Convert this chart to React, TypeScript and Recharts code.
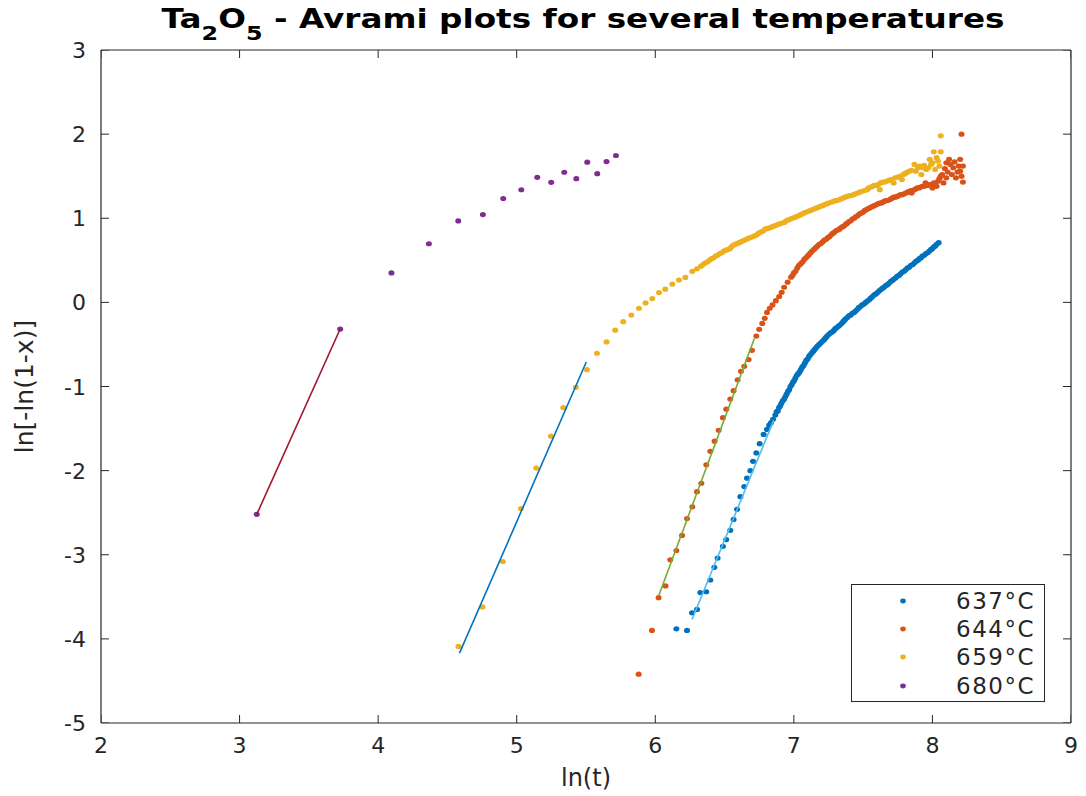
import React from 'react';
import { ComposedChart, Scatter, XAxis, YAxis, Legend, Label, ReferenceLine } from 'recharts';

// ---------- data ----------
const xTicks = [2, 3, 4, 5, 6, 7, 8, 9];
const yTicks = [-5, -4, -3, -2, -1, 0, 1, 2, 3];
const xDomain: [number, number] = [2, 9];
const yDomain: [number, number] = [-5, 3];
const seriesNames = ['637°C', '644°C', '659°C', '680°C'];
const seriesColors = ['#0072BD', '#D95319', '#EDB120', '#7E2F8E'];
const fitColors = ['#4DBEEE', '#77AC30', '#0072BD', '#A2142F'];

const s637: [number, number][] = [
  [6.152, -3.88], [6.229, -3.9], [6.265, -3.69], [6.301, -3.65], [6.325, -3.45], [6.368, -3.44],
  [6.397, -3.3], [6.426, -3.15], [6.45, -3.04], [6.488, -2.9], [6.512, -2.82], [6.541, -2.71],
  [6.565, -2.58], [6.59, -2.46], [6.614, -2.31], [6.642, -2.19], [6.662, -2.09], [6.686, -2.0],
  [6.705, -1.89], [6.729, -1.79], [6.753, -1.68], [6.782, -1.57], [6.806, -1.51], [6.822, -1.46],
  [6.835, -1.43], [6.85, -1.39], [6.866, -1.34], [6.875, -1.30], [6.884, -1.29], [6.893, -1.25],
  [6.902, -1.23], [6.91, -1.20], [6.92, -1.17], [6.93, -1.15], [6.939, -1.12], [6.948, -1.09],
  [6.957, -1.06], [6.966, -1.04], [6.975, -1.0], [6.984, -0.98], [6.993, -0.95], [7.002, -0.93],
  [7.011, -0.9], [7.02, -0.87], [7.03, -0.85], [7.04, -0.83], [7.05, -0.8], [7.06, -0.77],
  [7.07, -0.75], [7.08, -0.72], [7.09, -0.69], [7.1, -0.67], [7.11, -0.64], [7.12, -0.62],
  [7.13, -0.6], [7.14, -0.58], [7.15, -0.56], [7.16, -0.54], [7.17, -0.52], [7.183, -0.50],
  [7.195, -0.48], [7.208, -0.46], [7.22, -0.44], [7.23, -0.42], [7.24, -0.4], [7.253, -0.38],
  [7.267, -0.36], [7.278, -0.35], [7.29, -0.33], [7.3, -0.31], [7.31, -0.3], [7.324, -0.28],
  [7.338, -0.26], [7.35, -0.24], [7.36, -0.22], [7.372, -0.20], [7.385, -0.18], [7.397, -0.16],
  [7.41, -0.15], [7.422, -0.13], [7.435, -0.12], [7.447, -0.10], [7.46, -0.08], [7.47, -0.06],
  [7.48, -0.05], [7.492, -0.03], [7.505, -0.02], [7.518, 0.0], [7.53, 0.015], [7.543, 0.03],
  [7.555, 0.05], [7.567, 0.07], [7.58, 0.09], [7.592, 0.10], [7.605, 0.12], [7.618, 0.14],
  [7.63, 0.155], [7.64, 0.17], [7.65, 0.18], [7.663, 0.20], [7.675, 0.21], [7.688, 0.23],
  [7.7, 0.25], [7.71, 0.26], [7.72, 0.275], [7.733, 0.29], [7.745, 0.31], [7.758, 0.32],
  [7.77, 0.34], [7.783, 0.36], [7.795, 0.37], [7.808, 0.39], [7.82, 0.41], [7.833, 0.42],
  [7.845, 0.44], [7.858, 0.45], [7.87, 0.47], [7.883, 0.49], [7.895, 0.5], [7.906, 0.52],
  [7.917, 0.53], [7.928, 0.55], [7.94, 0.56], [7.953, 0.58], [7.965, 0.59], [7.978, 0.61],
  [7.99, 0.63], [8.0, 0.64], [8.01, 0.66], [8.02, 0.67], [8.03, 0.69], [8.045, 0.71],
];

const s644: [number, number][] = [
  [5.88, -4.42], [5.976, -3.9], [6.024, -3.51], [6.074, -3.37], [6.108, -3.06], [6.152, -2.95],
  [6.193, -2.77], [6.229, -2.57], [6.267, -2.43], [6.301, -2.25], [6.332, -2.15], [6.368, -1.93],
  [6.397, -1.77], [6.428, -1.65], [6.457, -1.52], [6.488, -1.37], [6.512, -1.27], [6.541, -1.15],
  [6.565, -1.05], [6.594, -0.92], [6.618, -0.82], [6.642, -0.76], [6.674, -0.68], [6.698, -0.57],
  [6.729, -0.4], [6.75, -0.32], [6.772, -0.25], [6.79, -0.19], [6.806, -0.12], [6.826, -0.07],
  [6.846, -0.03], [6.87, 0.02], [6.894, 0.07], [6.912, 0.12], [6.93, 0.18], [6.955, 0.24],
  [6.98, 0.30], [6.99, 0.32], [7.0, 0.35], [7.012, 0.37], [7.025, 0.41], [7.037, 0.44],
  [7.05, 0.46], [7.062, 0.48], [7.075, 0.51], [7.087, 0.53], [7.1, 0.55], [7.11, 0.57],
  [7.12, 0.59], [7.132, 0.61], [7.145, 0.63], [7.158, 0.65], [7.17, 0.67], [7.183, 0.69],
  [7.195, 0.70], [7.208, 0.72], [7.22, 0.74], [7.233, 0.75], [7.245, 0.77], [7.256, 0.78],
  [7.267, 0.80], [7.28, 0.82], [7.29, 0.83], [7.303, 0.85], [7.315, 0.86], [7.328, 0.87],
  [7.34, 0.89], [7.352, 0.90], [7.363, 0.91], [7.375, 0.93], [7.385, 0.94], [7.398, 0.96],
  [7.41, 0.97], [7.422, 0.99], [7.435, 1.0], [7.448, 1.02], [7.46, 1.03], [7.472, 1.05],
  [7.485, 1.06], [7.498, 1.07], [7.51, 1.09], [7.52, 1.10], [7.53, 1.11], [7.543, 1.12],
  [7.555, 1.13], [7.568, 1.14], [7.58, 1.15], [7.593, 1.16], [7.605, 1.17], [7.618, 1.18],
  [7.63, 1.18], [7.64, 1.19], [7.65, 1.2], [7.663, 1.21], [7.675, 1.21], [7.688, 1.22],
  [7.7, 1.23], [7.71, 1.24], [7.72, 1.25], [7.733, 1.25], [7.745, 1.26], [7.758, 1.27],
  [7.77, 1.28], [7.783, 1.28], [7.795, 1.29], [7.808, 1.30], [7.82, 1.31], [7.833, 1.32],
  [7.845, 1.33], [7.85, 1.3], [7.858, 1.33], [7.87, 1.34], [7.88, 1.35], [7.89, 1.36],
  [7.903, 1.36], [7.915, 1.37], [7.928, 1.38], [7.94, 1.38], [7.95, 1.42], [7.965, 1.39],
  [7.978, 1.40], [7.99, 1.4], [8.0, 1.36], [8.01, 1.42], [8.02, 1.40], [8.03, 1.38],
  [8.04, 1.44], [8.05, 1.47], [8.06, 1.50], [8.07, 1.52], [8.08, 1.42], [8.09, 1.59],
  [8.1, 1.66], [8.1, 1.48], [8.11, 1.55], [8.12, 1.7], [8.13, 1.64], [8.14, 1.52],
  [8.15, 1.6], [8.16, 1.67], [8.17, 1.48], [8.18, 1.55], [8.19, 1.62], [8.2, 1.56],
  [8.2, 1.7], [8.21, 1.5], [8.22, 1.43], [8.22, 1.62], [8.21, 2.0],
];

const s659: [number, number][] = [
  [4.58, -4.09], [4.753, -3.62], [4.9, -3.08], [5.03, -2.45], [5.141, -1.97], [5.247, -1.59],
  [5.336, -1.25], [5.427, -1.01], [5.507, -0.8], [5.579, -0.605], [5.648, -0.47], [5.711, -0.33],
  [5.769, -0.23], [5.827, -0.15], [5.882, -0.07], [5.93, -0.006], [5.978, 0.045], [6.027, 0.117],
  [6.072, 0.157], [6.123, 0.218], [6.171, 0.266], [6.217, 0.297], [6.267, 0.369], [6.3, 0.4],
  [6.33, 0.43], [6.345, 0.45], [6.36, 0.47], [6.375, 0.48], [6.39, 0.5], [6.405, 0.52],
  [6.42, 0.53], [6.435, 0.55], [6.45, 0.56], [6.465, 0.58], [6.48, 0.59], [6.495, 0.61],
  [6.51, 0.62], [6.525, 0.63], [6.54, 0.64], [6.55, 0.66], [6.563, 0.68], [6.577, 0.69],
  [6.59, 0.7], [6.603, 0.71], [6.617, 0.72], [6.63, 0.73], [6.645, 0.74], [6.658, 0.75],
  [6.67, 0.76], [6.685, 0.77], [6.7, 0.78], [6.715, 0.79], [6.73, 0.8], [6.743, 0.82],
  [6.755, 0.83], [6.768, 0.84], [6.78, 0.85], [6.793, 0.87], [6.806, 0.88], [6.818, 0.88],
  [6.83, 0.89], [6.845, 0.90], [6.86, 0.91], [6.875, 0.92], [6.89, 0.93], [6.91, 0.94],
  [6.93, 0.95], [6.945, 0.97], [6.96, 0.98], [6.975, 0.99], [6.99, 1.0], [7.005, 1.01],
  [7.02, 1.02], [7.033, 1.03], [7.047, 1.04], [7.058, 1.05], [7.07, 1.06], [7.085, 1.07],
  [7.1, 1.08], [7.115, 1.09], [7.13, 1.1], [7.145, 1.11], [7.16, 1.12], [7.175, 1.13],
  [7.19, 1.14], [7.205, 1.15], [7.22, 1.16], [7.235, 1.17], [7.25, 1.18], [7.268, 1.19],
  [7.285, 1.2], [7.298, 1.21], [7.31, 1.21], [7.325, 1.22], [7.34, 1.23], [7.355, 1.24],
  [7.37, 1.25], [7.385, 1.26], [7.4, 1.27], [7.415, 1.27], [7.43, 1.28], [7.445, 1.29],
  [7.46, 1.3], [7.475, 1.31], [7.49, 1.32], [7.51, 1.33], [7.528, 1.34], [7.54, 1.36],
  [7.555, 1.37], [7.568, 1.38], [7.58, 1.39], [7.595, 1.39], [7.61, 1.4], [7.62, 1.34],
  [7.625, 1.42], [7.64, 1.43], [7.655, 1.43], [7.67, 1.44], [7.685, 1.45], [7.7, 1.46],
  [7.72, 1.42], [7.73, 1.48], [7.75, 1.49], [7.769, 1.5], [7.78, 1.46], [7.79, 1.52],
  [7.8, 1.53], [7.81, 1.54], [7.82, 1.55], [7.835, 1.56], [7.85, 1.57], [7.87, 1.64],
  [7.88, 1.56], [7.895, 1.60], [7.91, 1.62], [7.92, 1.52], [7.93, 1.60], [7.94, 1.63],
  [7.955, 1.58], [7.97, 1.6], [7.98, 1.7], [7.99, 1.64], [8.0, 1.66], [8.01, 1.79],
  [8.02, 1.58], [8.03, 1.72], [8.04, 1.68], [8.05, 1.62], [8.06, 1.79], [8.06, 1.98],
];

const s680: [number, number][] = [
  [3.124, -2.52], [3.726, -0.317], [4.096, 0.35], [4.366, 0.697], [4.578, 0.968], [4.756, 1.044],
  [4.903, 1.235], [5.033, 1.339], [5.148, 1.487], [5.249, 1.427], [5.343, 1.547], [5.43, 1.471],
  [5.509, 1.666], [5.581, 1.53], [5.648, 1.674], [5.716, 1.746],
];

// fitted straight lines (start / end points)
const fit637: [number, number][] = [[6.265, -3.77], [6.855, -1.4]];
const fit644: [number, number][] = [[6.024, -3.49], [6.715, -0.43]];
const fit659: [number, number][] = [[4.587, -4.17], [5.502, -0.709]];
const fit680: [number, number][] = [[3.124, -2.52], [3.726, -0.317]];

const seriesData = [s637, s644, s659, s680];
const fitData = [fit637, fit644, fit659, fit680];

// ---------- styling ----------
const AXIS = '#262626';
const FONT = 'DejaVu Sans, sans-serif';
const TICK_FS = 22;
const TL = 8; // inward tick length in px

const toPts = (arr: [number, number][]) => arr.map(([x, y]) => ({ x, y }));

// tick-mark anchor points on the four box edges (placed through the scales)
const bottomTickPts = xTicks.map((x) => ({ x, y: yDomain[0] }));
const topTickPts = xTicks.map((x) => ({ x, y: yDomain[1] }));
const leftTickPts = yTicks.map((y) => ({ x: xDomain[0], y }));
const rightTickPts = yTicks.map((y) => ({ x: xDomain[1], y }));

const BottomLabel = (p: any) => (
  <text x={p.x} y={p.y + 30} textAnchor="middle" fontSize={TICK_FS} fontFamily={FONT} fill={AXIS}>
    {p.payload.value}
  </text>
);
const LeftLabel = (p: any) => (
  <text x={p.x - 15} y={p.y + 8} textAnchor="end" fontSize={TICK_FS} fontFamily={FONT} fill={AXIS}>
    {p.payload.value}
  </text>
);

const upMark = (p: any) => <line x1={p.cx} y1={p.cy} x2={p.cx} y2={p.cy - TL} stroke={AXIS} strokeWidth={1} />;
const downMark = (p: any) => <line x1={p.cx} y1={p.cy} x2={p.cx} y2={p.cy + TL} stroke={AXIS} strokeWidth={1} />;
const rightMark = (p: any) => <line x1={p.cx} y1={p.cy} x2={p.cx + TL} y2={p.cy} stroke={AXIS} strokeWidth={1} />;
const leftMark = (p: any) => <line x1={p.cx} y1={p.cy} x2={p.cx - TL} y2={p.cy} stroke={AXIS} strokeWidth={1} />;

const dotShape = (color: string) => (p: any) => (
  <ellipse cx={p.cx} cy={p.cy} rx={3} ry={2.6} fill={color} />
);
const noShape = () => <g />;

const LegendBox = () => (
  <div
    style={{
      width: 194,
      height: 118,
      border: `1px solid ${AXIS}`,
      background: '#fff',
      position: 'relative',
      boxSizing: 'border-box',
      fontFamily: FONT,
    }}
  >
    {seriesNames.map((n, i) => (
      <div key={n} style={{ position: 'absolute', left: 0, top: 2 + i * 28.2, height: 28, width: '100%' }}>
        <svg style={{ position: 'absolute', left: 46, top: 9 }} width={10} height={10}>
          <ellipse cx={5} cy={5} rx={2.8} ry={2.4} fill={seriesColors[i]} />
        </svg>
        <span
          style={{
            position: 'absolute',
            right: 9,
            top: 0,
            lineHeight: '28px',
            fontSize: 23,
            letterSpacing: 1.5,
            color: AXIS,
            whiteSpace: 'nowrap',
          }}
        >
          {n}
        </span>
      </div>
    ))}
  </div>
);

export default function App() {
  return (
    <div style={{ position: 'absolute', left: 0, top: 0, width: 1086, height: 796, background: '#fff' }}>
      <ComposedChart
        width={1086}
        height={796}
        margin={{ top: 50, right: 15, bottom: 0, left: 0 }}
      >
        <XAxis
          xAxisId="b"
          type="number"
          dataKey="x"
          domain={xDomain}
          ticks={xTicks}
          orientation="bottom"
          height={73}
          tickSize={0.001}
          tickMargin={0}
          tickLine={false}
          axisLine={{ stroke: AXIS, strokeWidth: 1.2 }}
          tick={BottomLabel}
          allowDataOverflow
          interval={0}
        >
          <Label
            content={(p: any) => {
              const vb = p.viewBox || { x: 101, y: 723, width: 969 };
              return (
                <text x={vb.x + vb.width / 2} y={vb.y + 63} textAnchor="middle" fontSize={24} fontFamily={FONT} fill={AXIS}>
                  ln(t)
                </text>
              );
            }}
          />
        </XAxis>
        <YAxis
          yAxisId="l"
          type="number"
          dataKey="y"
          domain={yDomain}
          ticks={yTicks}
          orientation="left"
          width={101}
          tickSize={0.001}
          tickMargin={0}
          tickLine={false}
          axisLine={{ stroke: AXIS, strokeWidth: 1.2 }}
          tick={LeftLabel}
          allowDataOverflow
          interval={0}
        >
          <Label
            content={(p: any) => {
              const vb = p.viewBox || { x: 0, y: 51, height: 672 };
              const cx = vb.x + 33;
              const cy = vb.y + vb.height / 2;
              return (
                <text
                  x={cx}
                  y={cy}
                  textAnchor="middle"
                  fontSize={25}
                  fontFamily={FONT}
                  fill={AXIS}
                  transform={`rotate(-90, ${cx}, ${cy})`}
                >
                  ln[-ln(1-x)]
                </text>
              );
            }}
          />
        </YAxis>

        {/* box edges (top and right) */}
        <ReferenceLine xAxisId="b" yAxisId="l" y={yDomain[1]} stroke={AXIS} strokeWidth={1.2} />
        <ReferenceLine xAxisId="b" yAxisId="l" x={xDomain[1]} stroke={AXIS} strokeWidth={1.2} />

        {/* inward tick marks on all four sides */}
        <Scatter data={bottomTickPts} xAxisId="b" yAxisId="l" shape={upMark} legendType="none" isAnimationActive={false} />
        <Scatter data={topTickPts} xAxisId="b" yAxisId="l" shape={downMark} legendType="none" isAnimationActive={false} />
        <Scatter data={leftTickPts} xAxisId="b" yAxisId="l" shape={rightMark} legendType="none" isAnimationActive={false} />
        <Scatter data={rightTickPts} xAxisId="b" yAxisId="l" shape={leftMark} legendType="none" isAnimationActive={false} />

        {seriesData.map((d, i) => (
          <Scatter
            key={seriesNames[i]}
            name={seriesNames[i]}
            data={toPts(d)}
            xAxisId="b"
            yAxisId="l"
            fill={seriesColors[i]}
            shape={dotShape(seriesColors[i])}
            isAnimationActive={false}
          />
        ))}
        {fitData.map((d, i) => (
          <Scatter
            key={'fit' + i}
            name={'fit' + i}
            data={toPts(d)}
            xAxisId="b"
            yAxisId="l"
            fill={fitColors[i]}
            line={{ stroke: fitColors[i], strokeWidth: 1.6 }}
            shape={noShape}
            legendType="none"
            isAnimationActive={false}
          />
        ))}

        <Legend
          layout="vertical"
          align="center"
          verticalAlign="middle"
          content={() => <LegendBox />}
          wrapperStyle={{ left: 851, top: 584, width: 194, height: 118 }}
        />
      </ComposedChart>

      <svg style={{ position: 'absolute', left: 0, top: 0 }} width={1086} height={50}>
        <text
          x={583}
          y={28}
          textAnchor="middle"
          fontFamily={FONT}
          fontWeight="bold"
          fontSize={26}
          fill="#000"
          textLength={843}
          lengthAdjust="spacingAndGlyphs"
        >
          Ta
          <tspan dy={12} fontSize={19}>2</tspan>
          <tspan dy={-12}>O</tspan>
          <tspan dy={12} fontSize={19}>5</tspan>
          <tspan dy={-12}> - Avrami plots for several temperatures</tspan>
        </text>
      </svg>
    </div>
  );
}
